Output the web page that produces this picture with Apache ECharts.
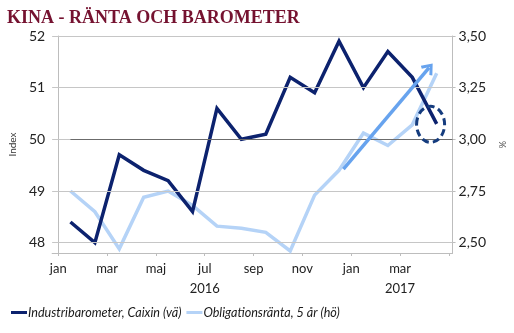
<!DOCTYPE html>
<html>
<head>
<meta charset="utf-8">
<script src="https://cdn.jsdelivr.net/npm/echarts@6/dist/echarts.min.js"></script>
<style>
  html, body { margin: 0; padding: 0; background: #fff; }
  #chart { width: 514px; height: 333px; }
</style>
</head>
<body>
<div id="chart"></div>
<script>
// Monthly observations, Jan 2016 – Apr 2017
const months = ['jan','feb','mar','apr','maj','jun','jul','aug','sep','okt','nov','dec','jan','feb','mar','apr'];
const years  = ['2016','2016','2016','2016','2016','2016','2016','2016','2016','2016','2016','2016','2017','2017','2017','2017'];

// Caixin PMI (left axis, index)
const pmi  = [48.4, 48.0, 49.7, 49.4, 49.2, 48.6, 50.6, 50.0, 50.1, 51.2, 50.9, 51.9, 51.0, 51.7, 51.2, 50.3];
// 5-year government bond yield (right axis, %)
const bond = [2.75, 2.65, 2.47, 2.72, 2.75, 2.68, 2.58, 2.57, 2.55, 2.46, 2.73, 2.85, 3.03, 2.97, 3.07, 3.32];

const leftTicks  = [48, 49, 50, 51, 52];
const rightTicks = [2.5, 2.75, 3.0, 3.25, 3.5];
const monthTicks = [0, 2, 4, 6, 8, 10, 12, 14, 16];
const monthLabels = [0, 2, 4, 6, 8, 10, 12, 14];
const neutral = 50;

// each reading sits mid-month; ticks mark the start of each month
const pmiData  = pmi.map((v, i) => [i + 0.5, v]);
const bondData = bond.map((v, i) => [i + 0.5, v]);

const DARK = '#0c226e';
const LIGHT = '#b5d3f7';
const ARROW = '#67a3ee';
const FONT = 'Lato';
const X_MAX = 16.15;

const chart = echarts.init(document.getElementById('chart'), null, { renderer: 'canvas' });

const option = {
  animation: false,
  backgroundColor: '#fff',
  title: {
    text: 'KINA - RÄNTA OCH BAROMETER',
    left: 2, top: 4,
    textStyle: { fontFamily: 'Liberation Serif', fontWeight: 'bold', fontSize: 18, color: '#751230' }
  },
  legend: {
    left: 11, top: 306, padding: 0,
    itemWidth: 16, itemHeight: 3, itemGap: 5,
    icon: 'rect',
    textStyle: { fontFamily: FONT, fontStyle: 'italic', fontSize: 12.6, color: '#1a1a1a', padding: [0, 0, 0, -4] },
    data: ['Industribarometer, Caixin (vä)', 'Obligationsränta, 5 år (hö)']
  },
  grid: { left: 42, right: 54, top: 36, bottom: 80 },
  xAxis: {
    type: 'value', min: -0.25, max: X_MAX,
    axisLine: { show: true, lineStyle: { color: '#bdbdbd', width: 1 } },
    axisTick: { show: true, length: 3, lineStyle: { color: '#bdbdbd' }, customValues: monthTicks },
    axisLabel: {
      customValues: monthLabels,
      margin: 6, lineHeight: 20,
      fontFamily: FONT, fontSize: 13, color: '#222',
      formatter: v => {
        const i = Math.round(v);
        const m = months[i];
        if (m === 'jul' || (m === 'mar' && years[i] === '2017')) return m + '\n' + years[i];
        return m;
      }
    },
    splitLine: { show: false }
  },
  yAxis: [
    {
      type: 'value', min: 47.8, max: 52,
      name: 'Index', nameLocation: 'middle', nameGap: 27, nameRotate: 90,
      nameTextStyle: { fontFamily: FONT, fontSize: 10, color: '#333' },
      axisLine: { show: true, lineStyle: { color: '#bdbdbd' } },
      axisTick: { show: true, length: 3, lineStyle: { color: '#bdbdbd' }, customValues: leftTicks },
      axisLabel: { customValues: leftTicks, margin: 7, fontFamily: FONT, fontSize: 14, color: '#222' },
      splitLine: { show: false }
    },
    {
      type: 'value', min: 2.45, max: 3.5,
      name: '%', nameLocation: 'middle', nameGap: 40, nameRotate: -90,
      nameTextStyle: { fontFamily: FONT, fontSize: 9, color: '#555' },
      axisLine: { show: true, lineStyle: { color: '#bdbdbd' } },
      axisTick: { show: true, length: 3, lineStyle: { color: '#bdbdbd' }, customValues: rightTicks },
      axisLabel: {
        customValues: rightTicks, margin: 6, fontFamily: FONT, fontSize: 14, color: '#222',
        formatter: v => v.toFixed(2).replace('.', ',')
      },
      splitLine: { show: false }
    }
  ],
  series: [
    {
      // horizontal reference lines at each left-axis tick, plus the 50 neutral level
      name: 'grid', type: 'line', data: [], z: 1, silent: true,
      markLine: {
        silent: true, symbol: 'none', label: { show: false }, animation: false,
        data: leftTicks.map(v => ({
          yAxis: v,
          lineStyle: { color: '#c6c6c6', width: 1.2, type: 'solid' }
        })).concat([[
          { coord: [pmiData[0][0], neutral], lineStyle: { color: '#6b6b6b', width: 1.2, type: 'solid' } },
          { coord: [X_MAX, neutral] }
        ]])
      }
    },
    {
      name: 'Obligationsränta, 5 år (hö)', type: 'line', yAxisIndex: 1, z: 2,
      data: bondData, showSymbol: false, symbol: 'none',
      lineStyle: { color: LIGHT, width: 3.5, join: 'miter' }, itemStyle: { color: LIGHT },
      markLine: {
        silent: true, animation: false,
        symbol: ['none', 'path://M5,0 L10,6.5 L8.3,7.6 L5,3.2 L1.7,7.6 L0,6.5 Z'],
        symbolSize: [15, 11],
        label: { show: false },
        lineStyle: { color: ARROW, width: 3.5, type: 'solid' },
        data: [[{ coord: [11.68, 2.856] }, { coord: [15.19, 3.347] }]]
      }
    },
    {
      name: 'Industribarometer, Caixin (vä)', type: 'line', yAxisIndex: 0, z: 3,
      data: pmiData, showSymbol: false, symbol: 'none',
      lineStyle: { color: DARK, width: 3.5, join: 'miter' }, itemStyle: { color: DARK }
    }
  ]
};

chart.setOption(option);

// dashed ring around the latest PMI reading
const c = chart.convertToPixel({ xAxisIndex: 0, yAxisIndex: 0 }, [15.25, 50.29]);
chart.setOption({
  graphic: [{
    type: 'ellipse', z: 10, silent: true,
    shape: { cx: c[0], cy: c[1], rx: 14, ry: 18 },
    style: { fill: 'none', stroke: '#153c7e', lineWidth: 3, lineDash: [7, 4] }
  }]
});
</script>
</body>
</html>
